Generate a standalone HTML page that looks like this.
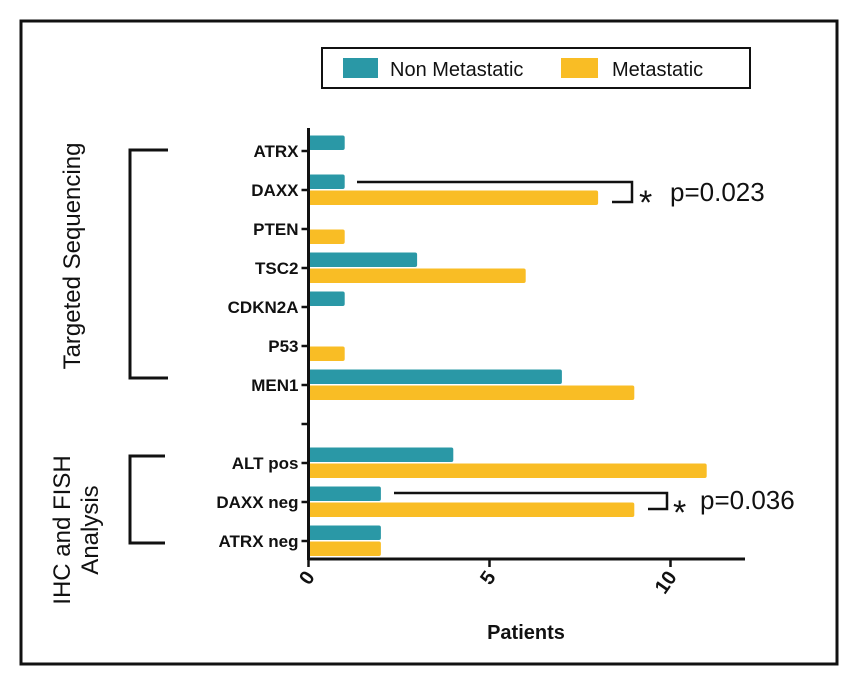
<!DOCTYPE html>
<html><head><meta charset="utf-8"><style>body{margin:0;background:#fff}svg{display:block;font-family:"Liberation Sans",Arial,sans-serif}</style></head>
<body>
<svg id="chart" width="861" height="686" viewBox="0 0 861 686">
<rect x="21" y="21" width="816" height="643" fill="none" stroke="#111" stroke-width="3"/>
<g>
<rect x="322" y="48" width="428" height="40" fill="none" stroke="#111" stroke-width="2"/>
<rect x="343" y="58" width="35" height="20" fill="#2a98a6"/>
<text x="390" y="76" font-size="20" fill="#111">Non Metastatic</text>
<rect x="561" y="58" width="37" height="20" fill="#f9bd25"/>
<text x="612" y="76" font-size="20" fill="#111">Metastatic</text>
</g>
<g id="plot"></g>
<g fill="none" stroke="#111" stroke-width="3">
<path d="M168 150 H130 V378 H168"/>
<path d="M165 456 H130 V543 H165"/>
<path d="M357 182 H632 V202 H612" stroke-width="2.5"/>
<path d="M394 493 H667 V509 H648" stroke-width="2.5"/>
</g>
<text x="0" y="0" transform="translate(80,256) rotate(-90)" text-anchor="middle" font-size="24" fill="#111">Targeted Sequencing</text>
<text transform="translate(70,530) rotate(-90)" text-anchor="middle" font-size="24" fill="#111"><tspan x="0" y="0">IHC and FISH</tspan><tspan x="0" y="28">Analysis</tspan></text>
<text x="639" y="214" font-size="34" fill="#111">*</text>
<text x="670" y="201" font-size="26" fill="#111">p=0.023</text>
<text x="673" y="524" font-size="34" fill="#111">*</text>
<text x="700" y="509" font-size="26" fill="#111">p=0.036</text>
<text x="526" y="639" text-anchor="middle" font-size="20" font-weight="bold" fill="#111">Patients</text>
</svg>
<script>
const categories = ["ATRX","DAXX","PTEN","TSC2","CDKN2A","P53","MEN1","","ALT pos","DAXX neg","ATRX neg"];
const nonMetastatic = [1,1,0,3,1,0,7,null,4,2,2];
const metastatic = [0,8,1,6,0,1,9,null,11,9,2];
const xTicks = [0,5,10];
const X0=308.5, PX=36.2, Y0=151, ROW=39, BH=14.5;
const xs=v=>X0+v*PX, ys=i=>Y0+i*ROW;
const NS="http://www.w3.org/2000/svg";
const g=document.getElementById('plot');
function mk(t,a){const e=document.createElementNS(NS,t);for(const k in a)e.setAttribute(k,a[k]);g.appendChild(e);return e;}
categories.forEach((c,i)=>{
  const y=ys(i);
  if(nonMetastatic[i]!==null){
    const b=mk('rect',{x:X0,y:y-BH-1,width:Math.max(nonMetastatic[i]*PX,0.01),height:BH,rx:2,fill:'#2a98a6'});
    
    
    const b2=mk('rect',{x:X0,y:y+0.5,width:Math.max(metastatic[i]*PX,0.01),height:BH,rx:2,fill:'#f9bd25'});
    
    
  }
  const t=mk('line',{x1:X0-7,x2:X0,y1:y,y2:y,stroke:'#111','stroke-width':2.5});
  
  
  if(c){
    const l=mk('text',{x:X0-10,y:y+6,'text-anchor':'end','font-size':17,'font-weight':'bold',fill:'#111'});
    l.textContent=c;
    
    
  }
});
const ya=mk('line',{x1:X0,x2:X0,y1:128,y2:560,stroke:'#111','stroke-width':3});


const xa=mk('line',{x1:X0-1,x2:745,y1:559,y2:559,stroke:'#111','stroke-width':3});


xTicks.forEach(v=>{
  const t=mk('line',{x1:xs(v),x2:xs(v),y1:559,y2:567,stroke:'#111','stroke-width':2.5});
  
  
  const l=mk('text',{x:0,y:0,'text-anchor':'end','font-size':20,'font-weight':'bold',fill:'#111',transform:`translate(${xs(v)+7},${577}) rotate(-55)`});
  l.textContent=v;
  
  
});
</script>
</body></html>
